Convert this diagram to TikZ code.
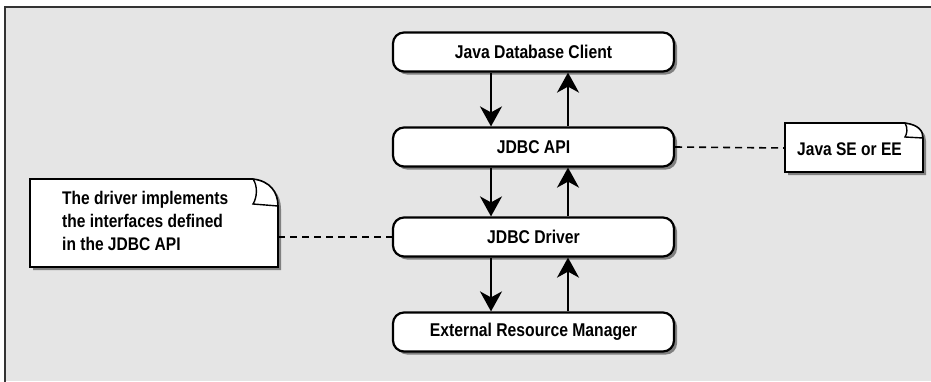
\documentclass[tikz,border=0pt]{standalone}
\usepackage{fontspec}
\setmainfont{Liberation Sans}[FakeStretch=0.85]
\usetikzlibrary{arrows.meta,shadows}
\begin{document}
\begin{tikzpicture}[x=1pt,y=-1pt,
  layer/.style={draw=black,line width=2.2pt,fill=white,rounded corners=11pt,
    minimum width=281pt,minimum height=39pt,inner sep=0pt,
    font=\fontsize{18.5}{22}\selectfont\bfseries,
    drop shadow={shadow xshift=3pt,shadow yshift=-3pt,fill=black!50,opacity=1}},
  flow/.style={line width=2.2pt,-{Stealth[length=20pt,width=22pt,inset=6pt]}},
  link/.style={line width=1.6pt,dash pattern=on 7pt off 5pt},
  notetext/.style={font=\fontsize{18.3}{23}\selectfont\bfseries,align=left,inner sep=0pt},
  notebox/.style={draw=black,line width=1.6pt,fill=white},
  noteshadow/.style={fill=black!50}]
\useasboundingbox (0,0) rectangle (931,381);
\fill[white] (0,0) rectangle (931,381);
\fill[black!10] (5,8) rectangle (931,381);
\draw[line width=2pt,black!80] (5,383) -- (5,7) -- (933,7);

\node[layer] (client) at (533.5,52) {Java Database Client};
\node[layer] (api) at (533.5,147) {JDBC API};
\node[layer] (driver) at (533.5,237) {JDBC Driver};
\node[layer] (erm) at (533.5,332) {External Resource Manager};

\draw[flow] (client.south -| 491,0) -- (api.north -| 491,0);
\draw[flow] (api.north -| 568,0) -- (client.south -| 568,0);
\draw[flow] (api.south -| 491,0) -- (driver.north -| 491,0);
\draw[flow] (driver.north -| 568,0) -- (api.south -| 568,0);
\draw[flow] (driver.south -| 491,0) -- (erm.north -| 491,0);
\draw[flow] (erm.north -| 568,0) -- (driver.south -| 568,0);

% right note
\fill[noteshadow] (788,126) -- (908,126) .. controls (922,128) and (926,134) .. (926,141) -- (926,175) -- (788,175) -- cycle;
\draw[notebox] (785,123) -- (905,123) .. controls (919,125) and (923,131) .. (923,138) -- (923,172) -- (785,172) -- cycle;
\draw[line width=1.4pt] (905,123) .. controls (908,128) and (907,134) .. (905,137) -- (923,138);
\coordinate (seL) at (785,148);
\node[notetext,anchor=west] (se) at (797,149) {Java SE or EE};

% left note
\fill[noteshadow] (33,182) -- (256,182) .. controls (273,184) and (281,195) .. (281,209) -- (281,270) -- (33,270) -- cycle;
\draw[notebox] (30,179) -- (253,179) .. controls (270,181) and (278,192) .. (278,206) -- (278,267) -- (30,267) -- cycle;
\draw[line width=1.4pt] (253,179) .. controls (258,186) and (257,198) .. (253,204) -- (278,206);
\coordinate (drvR) at (278,237);
\node[notetext,anchor=north west] (drvnote) at (62,191) {The driver implements\\the interfaces defined\\in the JDBC API};

\draw[link] (api.east) -- (seL);
\draw[link] (drvR) -- (driver.west);
\end{tikzpicture}
\end{document}
